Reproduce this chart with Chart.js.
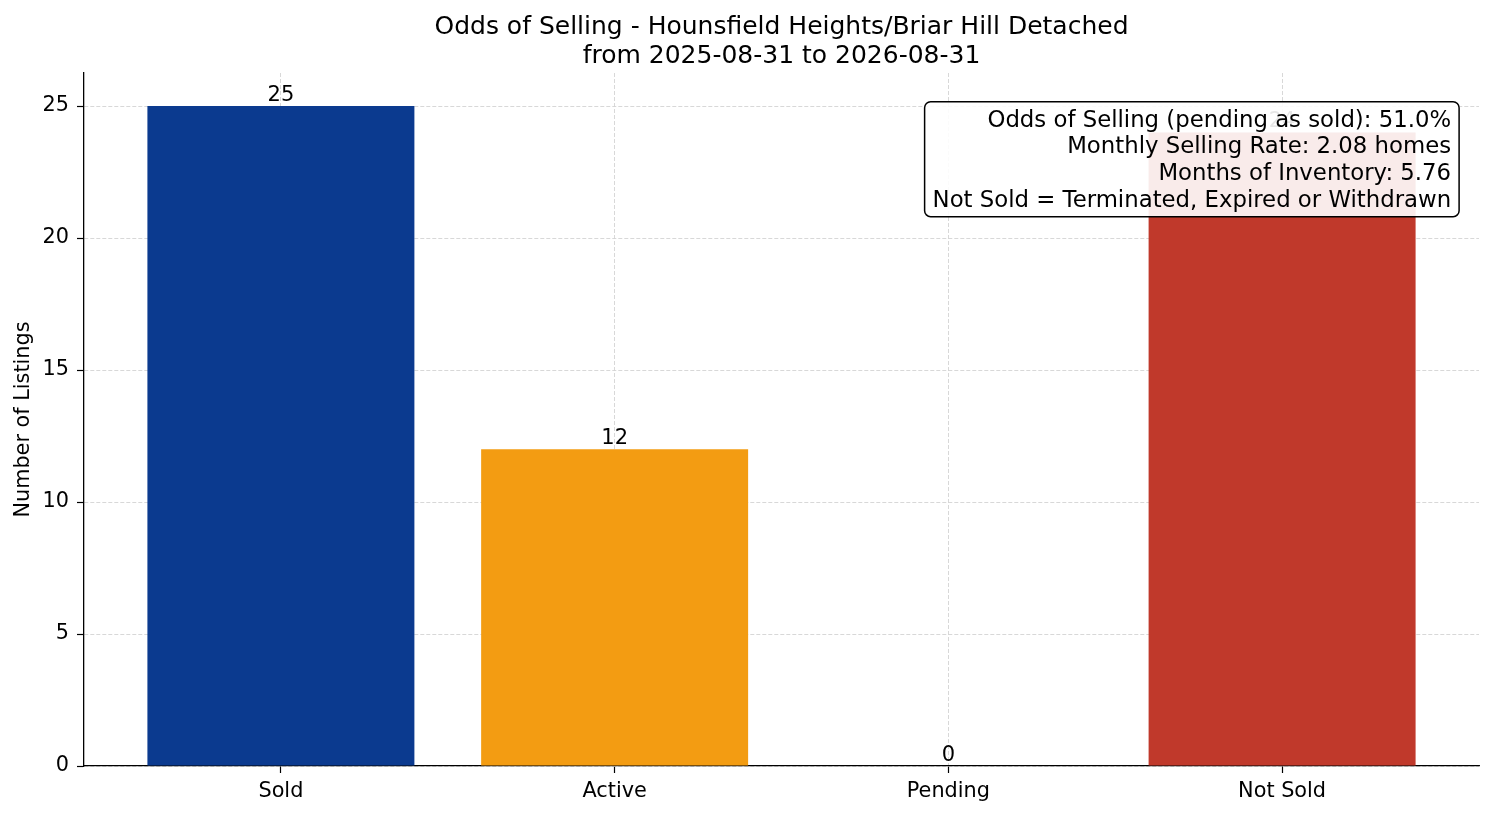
<!DOCTYPE html>
<html lang="en">
<head>
    <meta charset="UTF-8">
    <title>Odds of Selling - Hounsfield Heights/Briar Hill Detached</title>
    <script src="https://cdn.jsdelivr.net/npm/chart.js"></script>
    <style>
        html, body { margin: 0; padding: 0; background: #ffffff; }
        #oddsChart { display: block; }
    </style>
</head>
<body>
    <canvas id="oddsChart" width="1494" height="816"></canvas>

    <script>
        // data
        const categories = ["Sold", "Active", "Pending", "Not Sold"];
        const counts = [25, 12, 0, 24];
        const barColors = ["#0b3a8f", "#f39c12", "#f39c12", "#c0392b"];
        const yTicks = [0, 5, 10, 15, 20, 25];
        const titleLines = ["Odds of Selling - Hounsfield Heights/Briar Hill Detached", "from 2025-08-31 to 2026-08-31"];
        const infoLines = [
            "Odds of Selling (pending as sold): 51.0%",
            "Monthly Selling Rate: 2.08 homes",
            "Months of Inventory: 5.76",
            "Not Sold = Terminated, Expired or Withdrawn"
        ];

        const FONT = "'DejaVu Sans', sans-serif";
        const gridColor = "#d4d4d4";

        // title centred over the plot area (not the whole canvas)
        const plotTitle = {
            id: "plotTitle",
            afterDraw(chart) {
                const ctx = chart.ctx;
                const area = chart.chartArea;
                const cx = (area.left + area.right) / 2;
                ctx.save();
                ctx.font = "25px " + FONT;
                ctx.fillStyle = "#000";
                ctx.textAlign = "center";
                ctx.textBaseline = "alphabetic";
                titleLines.forEach(function(t, i) {
                    ctx.fillText(t, cx, 34 + i * 28.7);
                });
                ctx.restore();
            }
        };

        // numbers above the bars
        const barLabels = {
            id: "barLabels",
            afterDatasetsDraw(chart) {
                const ctx = chart.ctx;
                const meta = chart.getDatasetMeta(0);
                ctx.save();
                ctx.font = "21px " + FONT;
                ctx.fillStyle = "#000";
                ctx.textAlign = "center";
                ctx.textBaseline = "alphabetic";
                meta.data.forEach(function(bar, i) {
                    ctx.fillText(String(counts[i]), bar.x, bar.y - 5);
                });
                ctx.restore();
            }
        };

        // text box in the upper right corner
        const infoBox = {
            id: "infoBox",
            afterDraw(chart) {
                const ctx = chart.ctx;
                const area = chart.chartArea;
                const right = area.left + 0.98 * (area.right - area.left);
                const top = area.top + 0.05 * (area.bottom - area.top);
                const lineH = 26.7;
                ctx.save();
                ctx.font = "22.8px " + FONT;
                let w = 0;
                infoLines.forEach(function(t) { w = Math.max(w, ctx.measureText(t).width); });
                const pad = 8;
                const bx = right - w - pad;
                const by = top - 6;
                const bw = w + 2 * pad;
                const bh = 115;
                ctx.beginPath();
                ctx.roundRect(bx, by, bw, bh, 6);
                ctx.fillStyle = "rgba(255,255,255,0.9)";
                ctx.fill();
                ctx.lineWidth = 1.5;
                ctx.strokeStyle = "#000";
                ctx.stroke();
                ctx.fillStyle = "#000";
                ctx.textAlign = "right";
                ctx.textBaseline = "alphabetic";
                infoLines.forEach(function(t, i) {
                    ctx.fillText(t, right, top + 19 + i * lineH);
                });
                ctx.restore();
            }
        };

        const ctx = document.getElementById("oddsChart").getContext("2d");
        new Chart(ctx, {
            type: "bar",
            data: {
                datasets: [{
                    data: counts.map(function(v, i) { return { x: i, y: v }; }),
                    backgroundColor: barColors,
                    borderWidth: 0,
                    barPercentage: 0.8,
                    categoryPercentage: 1.0
                }]
            },
            options: {
                responsive: false,
                animation: false,
                devicePixelRatio: 1,
                layout: { padding: { left: 0, right: 15, top: 73, bottom: 0 } },
                plugins: {
                    legend: { display: false },
                    tooltip: { enabled: false },
                    title: { display: false }
                },
                scales: {
                    x: {
                        type: "linear",
                        min: -0.59,
                        max: 3.59,
                        offset: false,
                        z: 1,
                        afterBuildTicks: function(scale) {
                            scale.ticks = categories.map(function(c, i) { return { value: i }; });
                        },
                        afterFit: function(scale) { scale.height = 50; },
                        ticks: {
                            color: "#000",
                            font: { family: FONT, size: 20.8 },
                            padding: 6,
                            maxRotation: 0,
                            autoSkip: false,
                            callback: function(value) { return categories[value]; }
                        },
                        grid: {
                            offset: false,
                            color: gridColor,
                            lineWidth: 0.9,
                            tickColor: "#000",
                            tickLength: 7,
                            tickWidth: 1.2,
                            tickBorderDash: []
                        },
                        border: { display: true, color: "#000", width: 1.3, dash: [4, 2] }
                    },
                    y: {
                        min: 0,
                        max: 26.25,
                        z: 1,
                        afterBuildTicks: function(scale) {
                            scale.ticks = yTicks.map(function(v) { return { value: v }; });
                        },
                        afterFit: function(scale) { scale.width = 84; },
                        ticks: {
                            color: "#000",
                            font: { family: FONT, size: 20.8 },
                            padding: 8
                        },
                        grid: {
                            color: gridColor,
                            lineWidth: 0.9,
                            tickColor: "#000",
                            tickLength: 7,
                            tickWidth: 1.2,
                            tickBorderDash: []
                        },
                        border: { display: true, color: "#000", width: 1.3, dash: [4, 2] },
                        title: {
                            display: true,
                            text: "Number of Listings",
                            color: "#000",
                            font: { family: FONT, size: 20.8 },
                            padding: { top: 11, bottom: 0 }
                        }
                    }
                }
            },
            plugins: [barLabels, infoBox, plotTitle]
        });
    </script>
</body>
</html>
